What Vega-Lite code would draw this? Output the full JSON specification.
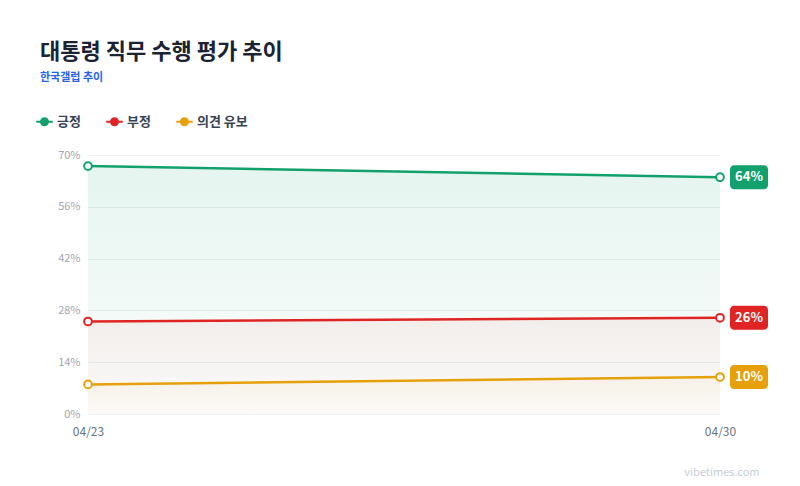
{
  "$schema": "https://vega.github.io/schema/vega-lite/v6.json",
  "autosize": "none",
  "width": 632,
  "height": 259,
  "padding": {"left": 88, "top": 155, "right": 80, "bottom": 72},
  "background": "#ffffff",
  "config": {
    "font": "Noto Sans CJK KR",
    "view": {"stroke": null}
  },
  "title": {
    "text": "대통령 직무 수행 평가 추이",
    "subtitle": "한국갤럽 추이",
    "anchor": "start",
    "frame": "group",
    "dx": -48,
    "offset": 29,
    "fontSize": 22,
    "fontWeight": "bold",
    "color": "#1a2233",
    "subtitleColor": "#2563eb",
    "subtitleFontSize": 11,
    "subtitleFontWeight": "bold",
    "subtitlePadding": 8
  },
  "data": {
    "values": [
      {"date": "04/23", "series": "긍정", "value": 67},
      {"date": "04/30", "series": "긍정", "value": 64},
      {"date": "04/23", "series": "부정", "value": 25},
      {"date": "04/30", "series": "부정", "value": 26},
      {"date": "04/23", "series": "의견 유보", "value": 8},
      {"date": "04/30", "series": "의견 유보", "value": 10}
    ]
  },
  "encoding": {
    "x": {
      "field": "date",
      "type": "ordinal",
      "scale": {"type": "point", "padding": 0},
      "axis": {
        "labelAngle": 0,
        "labelFontSize": 12,
        "labelColor": "#6b7280",
        "labelPadding": 12,
        "domain": false,
        "ticks": false,
        "grid": false,
        "title": "vibetimes.com",
        "titleColor": "#c9cdd4",
        "titleFontSize": 11,
        "titleFontWeight": "normal",
        "titleAlign": "right",
        "titleAnchor": null,
        "titleX": 671,
        "titleY": 52
      }
    },
    "y": {
      "field": "value",
      "type": "quantitative",
      "scale": {"domain": [0, 70], "nice": false},
      "axis": {
        "values": [0, 14, 28, 42, 56, 70],
        "labelExpr": "datum.value + '%'",
        "labelFontSize": 11,
        "labelColor": "#a0a6b1",
        "labelPadding": 8,
        "domain": false,
        "ticks": false,
        "gridColor": "#eef0f3",
        "gridWidth": 1,
        "title": null
      }
    }
  },
  "layer": [
    {
      "transform": [{"filter": "datum.date === '04/30'"}],
      "mark": {"type": "rect", "cornerRadius": 4, "xOffset": 10, "x2Offset": 48, "yOffset": -12, "y2Offset": 12},
      "encoding": {
        "x2": {"field": "date"},
        "y2": {"field": "value"},
        "color": {
          "field": "series",
          "type": "nominal",
          "scale": {"domain": ["긍정", "부정", "의견 유보"], "range": ["#12a06c", "#e02424", "#e6a00a"]},
          "legend": {
            "title": null,
            "orient": "none",
            "legendX": -52,
            "legendY": -42,
            "direction": "horizontal",
            "symbolType": "M-1,-0.12 H1 V0.12 H-1 Z M-0.55,0 A0.55,0.55 0 1,1 0.55,0 A0.55,0.55 0 1,1 -0.55,0 Z",
            "symbolSize": 270,
            "symbolStrokeWidth": 0,
            "labelFontSize": 13,
            "labelFontWeight": "bold",
            "labelColor": "#374151",
            "labelOffset": 4,
            "columnPadding": 25
          }
        }
      }
    },
    {
      "transform": [
        {"filter": "datum.date === '04/30'"},
        {"calculate": "datum.value + '%'", "as": "label"}
      ],
      "mark": {"type": "text", "color": "#ffffff", "fontSize": 13, "fontWeight": "bold", "dx": 29, "align": "center", "baseline": "middle"},
      "encoding": {"text": {"field": "label"}}
    },
    {
      "transform": [{"filter": "datum.series === '긍정'"}],
      "mark": {
        "type": "area",
        "color": {
          "gradient": "linear", "x1": 0, "y1": 0, "x2": 0, "y2": 1,
          "stops": [
            {"offset": 0, "color": "rgba(18,160,108,0.11)"},
            {"offset": 1, "color": "rgba(18,160,108,0.01)"}
          ]
        }
      },
      "encoding": {"y2": {"datum": 0}}
    },
    {
      "transform": [{"filter": "datum.series === '부정'"}],
      "mark": {
        "type": "area",
        "color": {
          "gradient": "linear", "x1": 0, "y1": 0, "x2": 0, "y2": 1,
          "stops": [
            {"offset": 0, "color": "rgba(224,36,36,0.06)"},
            {"offset": 1, "color": "rgba(224,36,36,0.01)"}
          ]
        }
      },
      "encoding": {"y2": {"datum": 0}}
    },
    {
      "transform": [{"filter": "datum.series === '의견 유보'"}],
      "mark": {
        "type": "area",
        "color": {
          "gradient": "linear", "x1": 0, "y1": 0, "x2": 0, "y2": 1,
          "stops": [
            {"offset": 0, "color": "rgba(230,160,10,0.06)"},
            {"offset": 1, "color": "rgba(230,160,10,0.01)"}
          ]
        }
      },
      "encoding": {"y2": {"datum": 0}}
    },
    {
      "mark": {"type": "line", "strokeWidth": 2.5},
      "encoding": {
        "color": {"field": "series", "type": "nominal"}
      }
    },
    {
      "mark": {"type": "point", "filled": false, "fill": "#ffffff", "fillOpacity": 1, "size": 60, "strokeWidth": 2, "opacity": 1},
      "encoding": {
        "color": {"field": "series", "type": "nominal"}
      }
    }
  ]
}
